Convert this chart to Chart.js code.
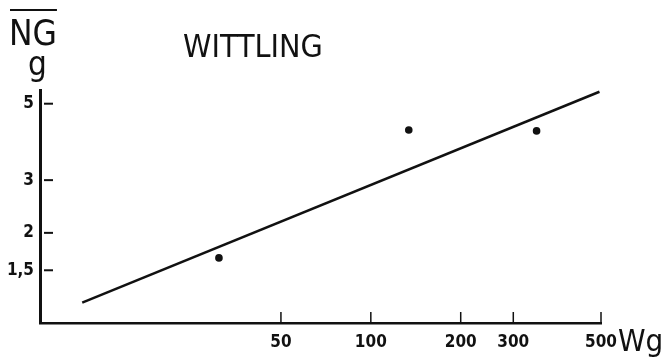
<!DOCTYPE html>
<html>
<head>
<meta charset="utf-8">
<script src="https://cdn.jsdelivr.net/npm/chart.js@4.4.1/dist/chart.umd.min.js"></script>
<style>
  html, body { margin: 0; padding: 0; background: #ffffff; }
  #wrap { width: 666px; height: 364px; position: relative; }
</style>
</head>
<body>
<div id="wrap"><canvas id="c" width="666" height="364"></canvas></div>
<script>
// ---- data (log-log axes) ----
const pointW  = [31, 134, 359];        // W in g
const pointNG = [1.65, 4.41, 4.38];    // mean NG in g
const fitW    = [10.8, 583];           // regression line ends
const fitNG   = [1.17, 5.92];

// tick marks as placed in the picture, and their printed labels
const xTickValues = [50, 100, 200, 300, 590];
const xTickLabels = ['50', '100', '200', '300', '500'];
const yTickValues = [1.5, 2, 3, 5.4];
const yTickLabels = ['1,5', '2', '3', '5'];

const titleText = 'WITTLING';
const yUnitTop = 'NG';
const yUnitBottom = 'g';
const xUnit = 'Wg';

const FAMILY = "'DejaVu Sans Condensed', 'Liberation Sans Narrow', 'Liberation Sans', sans-serif";
const INK = '#111111';

const insideTicks = {
  id: 'insideTicks',
  afterDraw(chart) {
    const ctx = chart.ctx;
    const xs = chart.scales.x, ys = chart.scales.y;
    const a = chart.chartArea;
    ctx.save();
    ctx.strokeStyle = INK;
    ctx.lineWidth = 2;
    yTickValues.forEach(v => {
      const py = ys.getPixelForValue(v);
      ctx.beginPath();
      ctx.moveTo(a.left + 4, py);
      ctx.lineTo(a.left + 13, py);
      ctx.stroke();
    });
    ctx.lineWidth = 1.5;
    xTickValues.forEach(v => {
      const px = xs.getPixelForValue(v);
      ctx.beginPath();
      ctx.moveTo(px, a.bottom - 11);
      ctx.lineTo(px, a.bottom);
      ctx.stroke();
    });
    // texts
    ctx.fillStyle = INK;
    ctx.textBaseline = 'alphabetic';
    ctx.textAlign = 'left';
    ctx.font = '32px ' + FAMILY;
    ctx.fillText(titleText, 183, 57);
    ctx.font = '35px ' + FAMILY;
    ctx.fillText(yUnitTop, 9, 45);
    const w = ctx.measureText(yUnitTop).width;
    ctx.lineWidth = 2;
    ctx.beginPath();
    ctx.moveTo(10, 10);
    ctx.lineTo(9 + w, 10);
    ctx.stroke();
    ctx.font = '33px ' + FAMILY;
    ctx.fillText(yUnitBottom, 28, 75);
    ctx.font = '31px ' + FAMILY;
    ctx.fillText(xUnit, 618, 351);
    ctx.restore();
  }
};

new Chart(document.getElementById('c'), {
  type: 'scatter',
  data: {
    datasets: [
      {
        type: 'line',
        data: fitW.map((w, i) => ({ x: w, y: fitNG[i] })),
        borderColor: INK,
        borderWidth: 2.5,
        pointRadius: 0,
        fill: false,
        clip: false
      },
      {
        type: 'scatter',
        data: pointW.map((w, i) => ({ x: w, y: pointNG[i] })),
        backgroundColor: INK,
        borderColor: INK,
        pointRadius: 3.8,
        borderWidth: 0,
        clip: false
      }
    ]
  },
  options: {
    responsive: false,
    animation: false,
    devicePixelRatio: 1,
    layout: { padding: { top: 90, right: 65, left: 0, bottom: 0 } },
    plugins: { legend: { display: false }, tooltip: { enabled: false }, title: { display: false } },
    scales: {
      x: {
        type: 'logarithmic',
        min: 7.8,
        max: 590,
        afterBuildTicks(scale) { scale.ticks = xTickValues.map(v => ({ value: v })); },
        afterFit(scale) { scale.height = 41; },
        grid: { display: true, drawOnChartArea: false, drawTicks: false },
        border: { display: true, color: INK, width: 2.5 },
        ticks: {
          autoSkip: false,
          maxRotation: 0,
          padding: 9,
          color: INK,
          font: { family: FAMILY, size: 17, weight: 'bold' },
          callback: (v, i) => xTickLabels[i]
        }
      },
      y: {
        type: 'logarithmic',
        min: 1,
        max: 6,
        afterBuildTicks(scale) { scale.ticks = yTickValues.map(v => ({ value: v })); },
        afterFit(scale) { scale.width = 40; },
        grid: { display: true, drawOnChartArea: false, drawTicks: false },
        border: { display: true, color: INK, width: 3 },
        ticks: {
          autoSkip: false,
          padding: 6,
          color: INK,
          font: { family: FAMILY, size: 17, weight: 'bold' },
          callback: (v, i) => yTickLabels[i]
        }
      }
    }
  },
  plugins: [insideTicks]
});
</script>
</body>
</html>
